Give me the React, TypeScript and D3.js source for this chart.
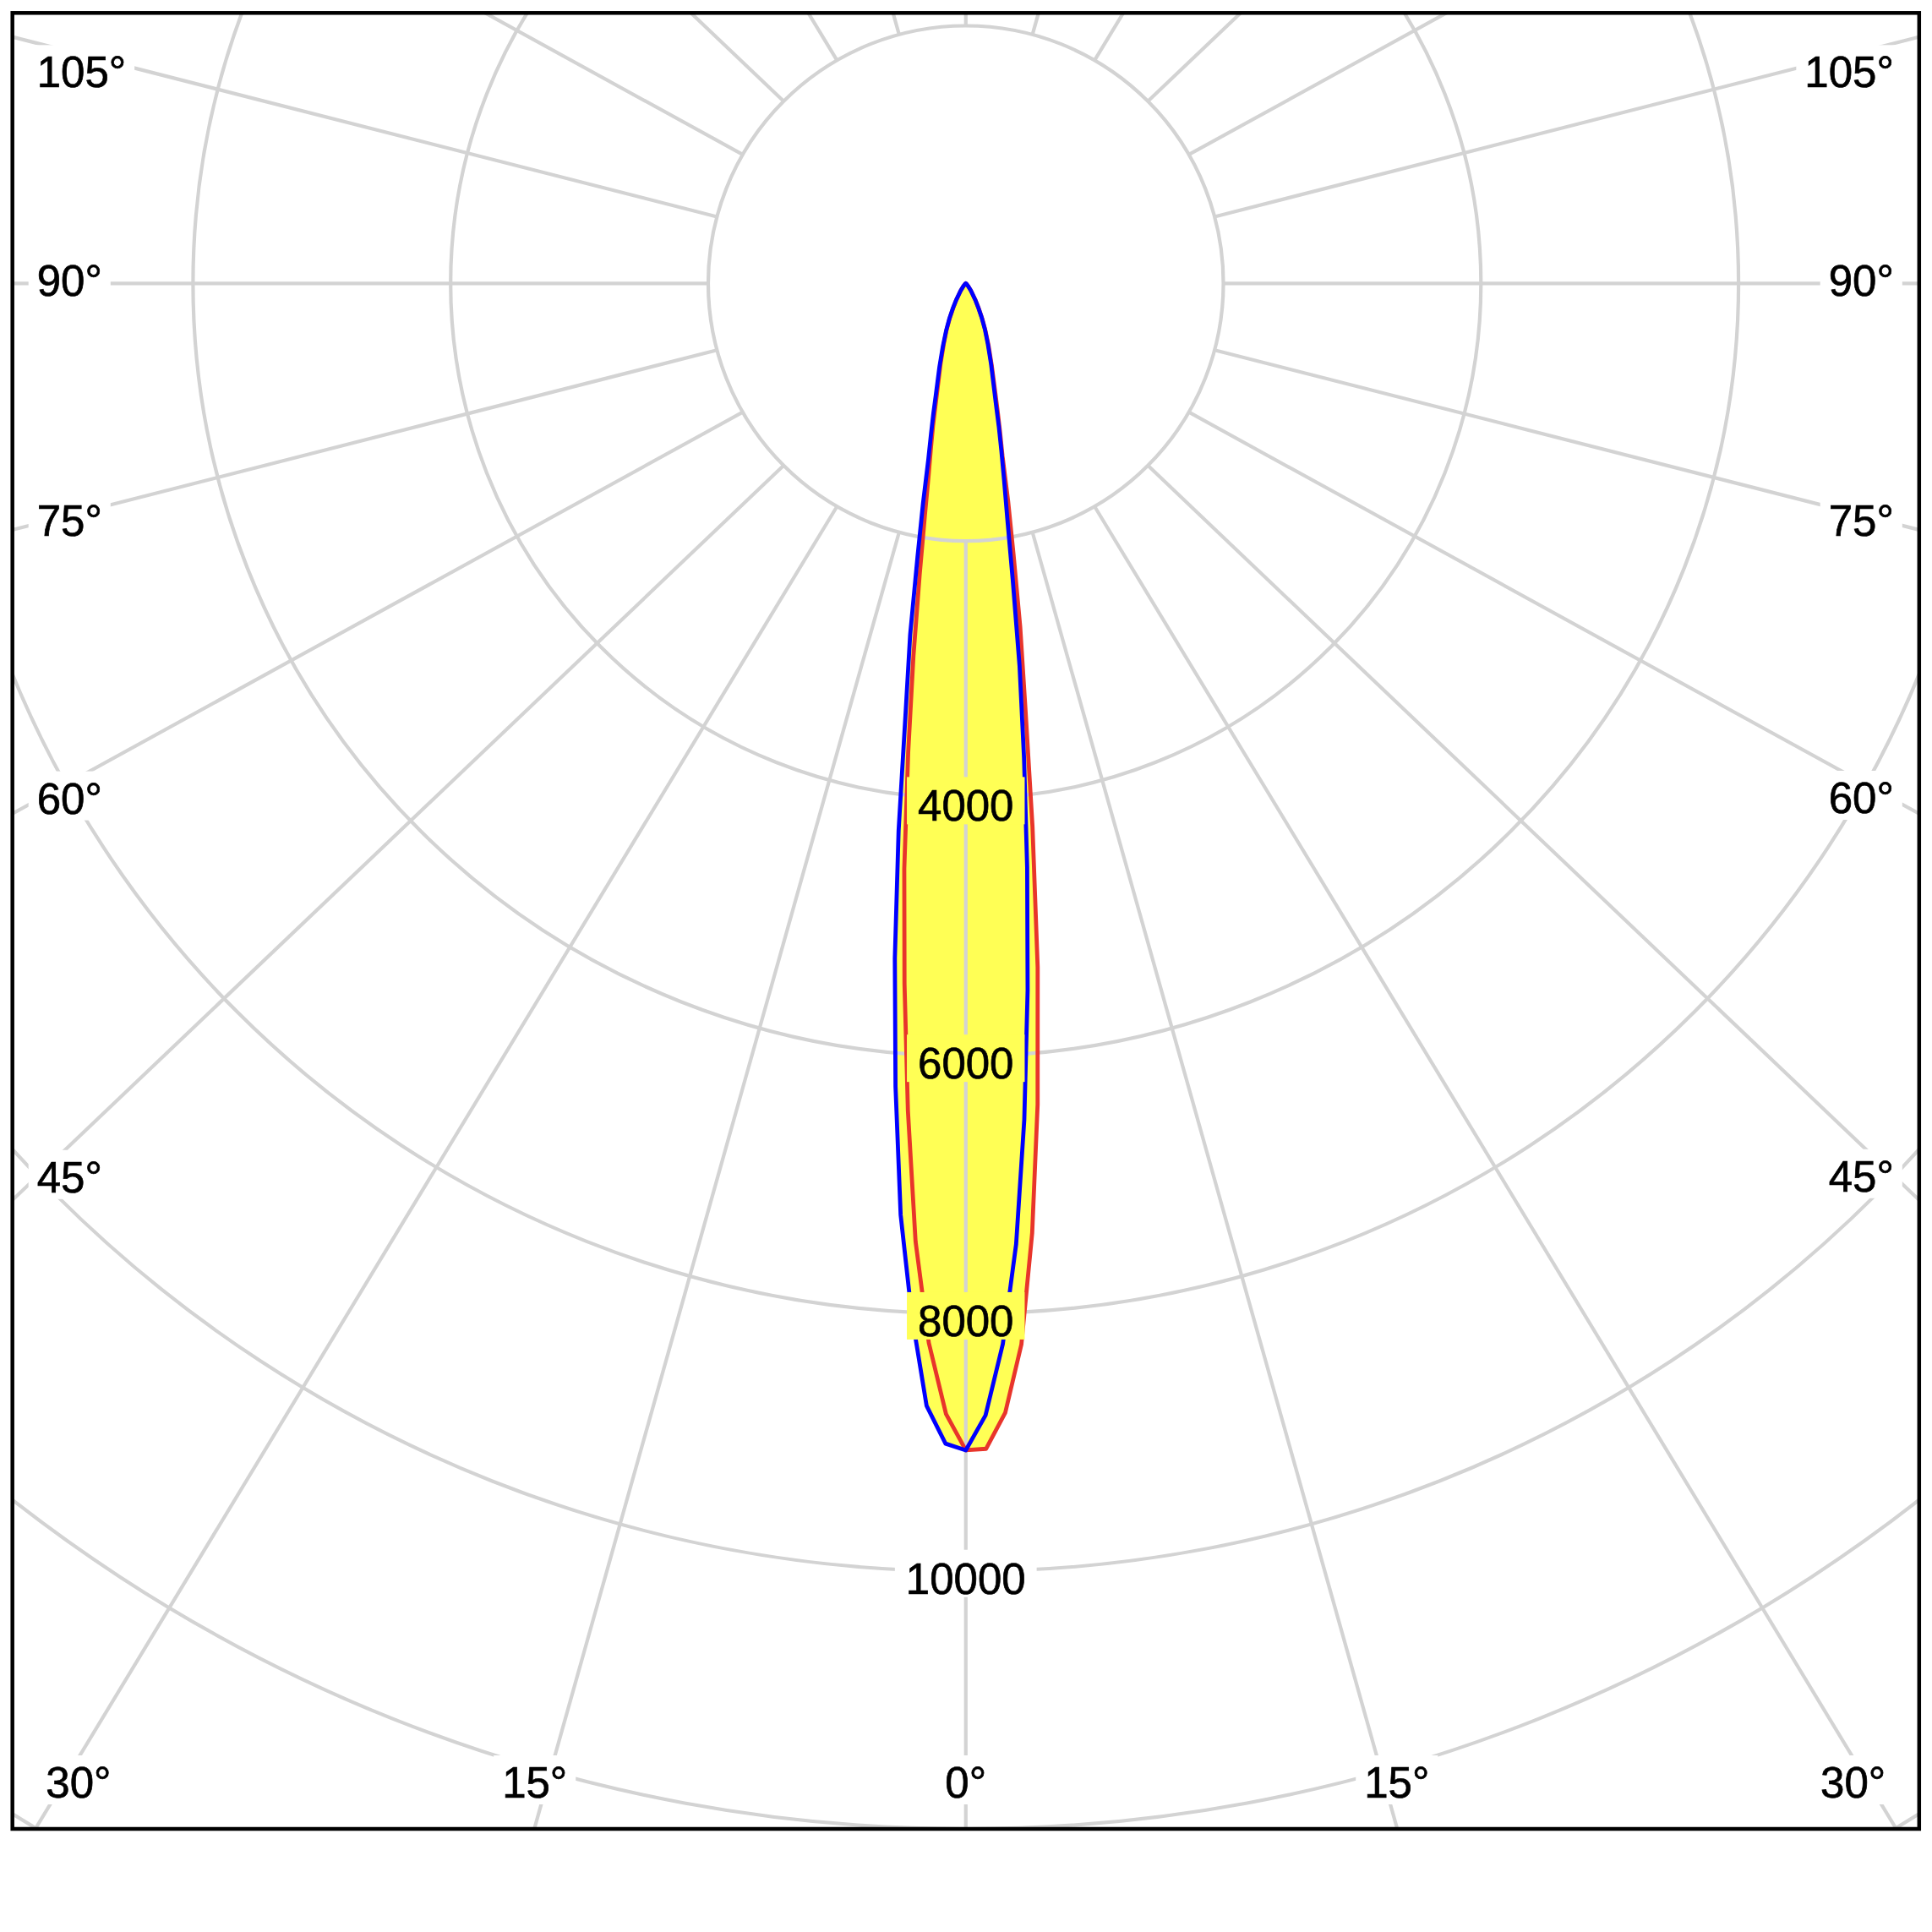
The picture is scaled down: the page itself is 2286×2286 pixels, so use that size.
import React from 'react';
import * as d3 from 'd3';

// Gamma angles (degrees from nadir) and luminous intensity (cd) per C-plane
const gammaAngles = [0, 1, 2, 3, 4, 5, 6, 7, 8, 9, 10, 11, 12, 13, 14, 15, 17.5, 20, 22.5, 25, 27.5, 30, 35, 40, 45, 50, 60, 70, 80, 90];
const c0Values = [9060, 9050, 8775, 8250, 7390, 6400, 5340, 4250, 3320, 2700, 2130, 1720, 1370, 1180, 1020, 890, 670, 520, 400, 300, 215, 150, 70, 30, 12, 4, 0, 0, 0, 0];
const c180Values = [9060, 8780, 8230, 7450, 6440, 5460, 4570, 3670, 2920, 2290, 1830, 1510, 1300, 1130, 970, 850, 650, 500, 390, 290, 205, 145, 68, 28, 11, 4, 0, 0, 0, 0];
const c90Values = [9060, 8790, 8240, 7470, 6510, 5510, 4560, 3710, 3000, 2330, 1860, 1560, 1330, 1140, 970, 850, 650, 500, 390, 290, 205, 145, 68, 28, 11, 4, 0, 0, 0, 0];
const c270Values = [9060, 9010, 8720, 8020, 7250, 6260, 5270, 4280, 3350, 2760, 2160, 1740, 1400, 1200, 1040, 900, 680, 520, 400, 300, 215, 150, 70, 30, 12, 4, 0, 0, 0, 0];

const ringValues = [2000, 4000, 6000, 8000, 10000, 12000, 14000, 16000];
const ringLabels = [4000, 6000, 8000, 10000];
const angleTicks = [0, 15, 30, 45, 60, 75, 90, 105];

const SIZE = 2286;
const frame = { x0: 14.7, y0: 15.3, x1: 2270.8, y1: 2164 };
const cx = (frame.x0 + frame.x1) / 2;
const cy = 335.3;
const rScale = d3.scaleLinear().domain([0, 12000]).range([0, frame.y1 - cy]);
const stretch = (frame.x1 - frame.x0) / (frame.y1 - frame.y0);

const FONT = "'Liberation Sans', Arial, sans-serif";
const FS = 51;
const GRID = '#d3d3d3';
const YELLOW = '#ffff55';
const RED = '#e8352b';
const BLUE = '#0000ff';

function textWidth(s: string) {
  let w = 0;
  for (const ch of s) w += ch === '°' ? 0.4 : 0.556;
  return w * FS;
}

const rad = (deg: number) => (deg * Math.PI) / 180;

function curvePath(leftVals: number[], rightVals: number[]) {
  // left side: angle pi + gamma ; right side: angle pi - gamma (d3 radial: 0 = up, clockwise)
  const pts: [number, number][] = [];
  for (let i = gammaAngles.length - 1; i >= 0; i--) pts.push([Math.PI + rad(gammaAngles[i]), rScale(leftVals[i])]);
  for (let i = 0; i < gammaAngles.length; i++) pts.push([Math.PI - rad(gammaAngles[i]), rScale(rightVals[i])]);
  const line = d3
    .lineRadial<[number, number]>()
    .angle((d) => d[0])
    .radius((d) => d[1])
    .curve(d3.curveLinearClosed);
  return line(pts) || '';
}

export default function App() {
  const redPath = curvePath(c180Values, c0Values);
  const bluePath = curvePath(c270Values, c90Values);

  const r0 = rScale(2000);
  const spokes = d3.range(0, 360, 15).map((a) => {
    const t = rad(a);
    const sx = cx + Math.sin(t) * r0;
    const sy = cy + Math.cos(t) * r0;
    const L = 4000;
    return { a, x1: sx, y1: sy, x2: sx + Math.sin(t) * stretch * L, y2: sy + Math.cos(t) * L };
  });

  type Lab = { key: string; text: string; x: number; y: number; anchor: 'start' | 'end' | 'middle'; w: number };
  const labels: Lab[] = [];
  const bottomBaseline = frame.y1 - 37;
  const cornerY = bottomBaseline - 47;
  angleTicks.forEach((a) => {
    const text = `${a}°`;
    const w = textWidth(text);
    const sides = a === 0 ? [0] : [-1, 1];
    sides.forEach((s) => {
      if (a <= 30) {
        if (s === 0) {
          labels.push({ key: `a${a}`, text, x: cx, y: bottomBaseline, anchor: 'middle', w });
        } else {
          const rx = cx + s * (cornerY - cy) * Math.tan(rad(a));
          labels.push({ key: `a${a}${s}`, text, x: rx + s * 4, y: bottomBaseline, anchor: s < 0 ? 'end' : 'start', w });
        }
      } else {
        const x = s < 0 ? frame.x0 + 29 : frame.x1 - 30;
        const xc = s < 0 ? x + w / 2 : x - w / 2;
        const ray = cy + Math.abs(cx - xc) / Math.tan(rad(a));
        const y = Math.max(frame.y0 + 88, Math.min(bottomBaseline, ray + 15));
        labels.push({ key: `a${a}${s}`, text, x, y, anchor: s < 0 ? 'start' : 'end', w });
      }
    });
  });

  const boxX = (l: Lab) => (l.anchor === 'start' ? l.x : l.anchor === 'end' ? l.x - l.w : l.x - l.w / 2);

  return (
    <svg
      width={SIZE}
      height={SIZE}
      viewBox={`0 0 ${SIZE} ${SIZE}`}
      style={{ position: 'absolute', left: 0, top: 0, background: '#fff' }}
    >
      <defs>
        <clipPath id="frameClip">
          <rect x={frame.x0} y={frame.y0} width={frame.x1 - frame.x0} height={frame.y1 - frame.y0} />
        </clipPath>
      </defs>
      <rect x={0} y={0} width={SIZE} height={SIZE} fill="#fff" />
      <g transform={`translate(${cx},${cy})`}>
        <path d={redPath} fill={YELLOW} stroke="none" />
        <path d={bluePath} fill={YELLOW} stroke="none" />
      </g>
      <g clipPath="url(#frameClip)">
        {ringValues.map((v) => (
          <circle key={v} cx={cx} cy={cy} r={rScale(v)} fill="none" stroke={GRID} strokeWidth={4.2} />
        ))}
        {spokes.map((s) => (
          <line key={s.a} x1={s.x1} y1={s.y1} x2={s.x2} y2={s.y2} stroke={GRID} strokeWidth={4.2} />
        ))}
      </g>
      <g transform={`translate(${cx},${cy})`}>
        <path d={redPath} fill="none" stroke={RED} strokeWidth={4.8} strokeLinejoin="round" />
        <path d={bluePath} fill="none" stroke={BLUE} strokeWidth={4.8} strokeLinejoin="round" />
      </g>
      {ringLabels.map((v) => {
        const text = String(v);
        const w = textWidth(text);
        const base = cy + rScale(v) + 26.5;
        return (
          <g key={`r${v}`}>
            <rect x={cx - w / 2 - 13} y={base - 52} width={w + 26} height={56} fill={v < c0Values[0] ? YELLOW : '#fff'} />
            <text x={cx} y={base} textAnchor="middle" fontFamily={FONT} fontSize={FS} fill="#000" stroke="#000" strokeWidth={0.7}>
              {text}
            </text>
          </g>
        );
      })}
      {labels.map((l) => (
        <g key={l.key}>
          <rect x={boxX(l) - 10} y={l.y - 50} width={l.w + 20} height={58} fill="#fff" />
          <text x={l.x} y={l.y} textAnchor={l.anchor} fontFamily={FONT} fontSize={FS} fill="#000" stroke="#000" strokeWidth={0.7}>
            {l.text}
          </text>
        </g>
      ))}
      <rect
        x={frame.x0}
        y={frame.y0}
        width={frame.x1 - frame.x0}
        height={frame.y1 - frame.y0}
        fill="none"
        stroke="#000"
        strokeWidth={4.5}
      />
    </svg>
  );
}
